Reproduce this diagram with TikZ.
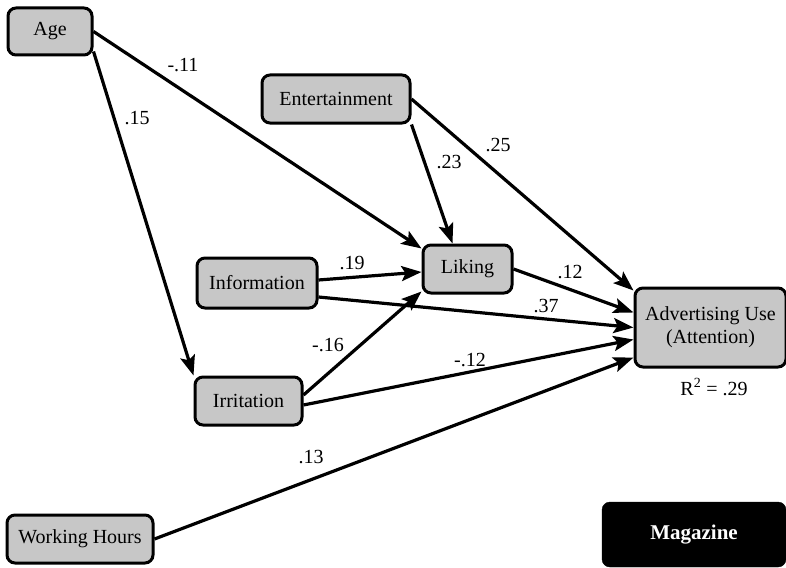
\documentclass[tikz,border=0pt]{standalone}
\usepackage{fontspec}
\setmainfont{Liberation Serif}
\usetikzlibrary{arrows.meta}
\begin{document}
\begin{tikzpicture}[x=1pt,y=-1pt,
  var/.style={draw=black, line width=3pt, rounded corners=8pt, fill=black!22,
    inner sep=0pt, font=\fontsize{20}{23}\selectfont, align=center},
  path/.style={line width=3.2pt, -{Stealth[length=20pt,width=15pt,inset=4pt]}},
  coef/.style={font=\fontsize{20}{23}\selectfont, inner sep=0pt}]
\useasboundingbox (0,0) rectangle (786,567);
% variables
\node[var, minimum width=84, minimum height=47] (age) at (50,31.5) {Age};
\node[var, minimum width=148, minimum height=48] (ent) at (336,99) {Entertainment};
\node[var, minimum width=120, minimum height=50] (info) at (257,283) {Information};
\node[var, minimum width=89, minimum height=48] (liking) at (467.5,269) {Liking};
\node[var, minimum width=151, minimum height=79] (adv) at (710.5,327.5) {Advertising Use\\(Attention)};
\node[var, minimum width=107, minimum height=48] (irr) at (248.5,401) {Irritation};
\node[var, minimum width=146, minimum height=48] (work) at (80,539) {Working Hours};
\node[draw=black, fill=black, rounded corners=8pt, minimum width=184, minimum height=65,
  text=white, font=\fontsize{21}{24}\selectfont\bfseries] (mag) at (694,534.5) {Magazine};
\node[coef] (r2) at (714,387) {R\textsuperscript{2} = .29};
% paths
\draw[path] (age.east) -- ([yshift=-5pt]liking.north west);
\draw[path] ([yshift=5pt]age.south east) -- (irr.north west);
\draw[path] (ent.south east) -- ([xshift=-15pt]liking.north);
\draw[path] (ent.east) -- ([yshift=-4pt]adv.north west);
\draw[path] ([yshift=3pt]info.east) -- ([yshift=-3pt]liking.west);
\draw[path] ([yshift=-14pt]info.east) -- (adv.west);
\draw[path] (liking.east) -- ([yshift=15pt]adv.west);
\draw[path] ([yshift=6pt]irr.east) -- ([yshift=3pt]liking.south west);
\draw[path] ([yshift=-4pt]irr.east) -- ([yshift=-12pt]adv.west);
\draw[path] (work.east) -- ([yshift=-30pt]adv.west);
% coefficients
\node[coef] (c1) at (183,65) {-.11};
\node[coef] (c2) at (137,118) {.15};
\node[coef] (c3) at (449,162) {.23};
\node[coef] (c4) at (498,145) {.25};
\node[coef] (c5) at (352,263) {.19};
\node[coef] (c6) at (546,306) {.37};
\node[coef] (c7) at (570,272) {.12};
\node[coef] (c8) at (328,345) {-.16};
\node[coef] (c9) at (470,360) {-.12};
\node[coef] (c10) at (311,457) {.13};
\end{tikzpicture}
\end{document}
